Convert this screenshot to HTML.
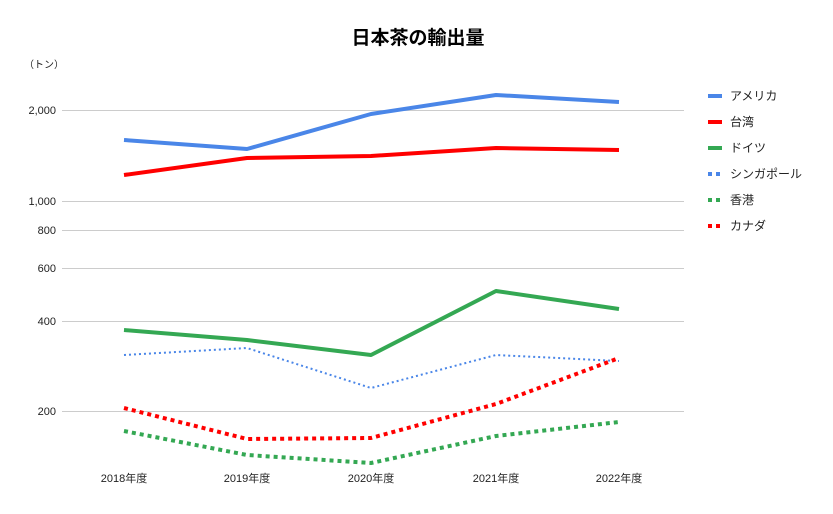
<!DOCTYPE html>
<html><head><meta charset="utf-8"><style>
body{margin:0;background:#fff}
text{font-family:"Liberation Sans","Noto Sans CJK JP",sans-serif}
</style></head><body>
<svg width="833" height="509" xmlns="http://www.w3.org/2000/svg">
<rect width="833" height="509" fill="#fff"/>
<text x="418" y="44" text-anchor="middle" font-size="19" font-weight="bold" fill="#000">日本茶の輸出量</text>
<text x="24" y="68" font-size="10" fill="#222">（トン）</text>
<g stroke="#ccc" stroke-width="1">
<line x1="62" x2="684" y1="110.5" y2="110.5"/>
<line x1="62" x2="684" y1="201.5" y2="201.5"/>
<line x1="62" x2="684" y1="230.5" y2="230.5"/>
<line x1="62" x2="684" y1="268.5" y2="268.5"/>
<line x1="62" x2="684" y1="321.5" y2="321.5"/>
<line x1="62" x2="684" y1="411.5" y2="411.5"/>
</g>
<g font-size="11" fill="#222" text-anchor="end">
<text x="56" y="114">2,000</text>
<text x="56" y="205">1,000</text>
<text x="56" y="234">800</text>
<text x="56" y="272">600</text>
<text x="56" y="325">400</text>
<text x="56" y="415">200</text>
</g>
<g font-size="11" fill="#222" text-anchor="middle">
<text x="124" y="482">2018年度</text>
<text x="247" y="482">2019年度</text>
<text x="371" y="482">2020年度</text>
<text x="496" y="482">2021年度</text>
<text x="619" y="482">2022年度</text>
</g>
<g fill="none" stroke-linejoin="round">
<polyline stroke="#4a86e8" stroke-width="4" points="124,140 247,149 371,114 496,95 619,102"/>
<polyline stroke="#f00" stroke-width="4" points="124,175 247,158 371,156 496,148 619,150"/>
<polyline stroke="#34a853" stroke-width="4" points="124,330 247,340 371,355 496,291 619,309"/>
<polyline stroke="#4a86e8" stroke-width="2" stroke-dasharray="2,3" points="124,355 247,348 371,388 496,355 619,361"/>
<polyline stroke="#34a853" stroke-width="4" stroke-dasharray="4,4" points="124,431 247,455 371,463 496,436 619,422"/>
<polyline stroke="#f00" stroke-width="4" stroke-dasharray="4,4" points="124,408 247,439 371,438 496,404 619,358"/>
</g>
<g stroke-width="4">
<line x1="708" x2="722" y1="96" y2="96" stroke="#4a86e8"/>
<line x1="708" x2="722" y1="122" y2="122" stroke="#f00"/>
<line x1="708" x2="722" y1="148" y2="148" stroke="#34a853"/>
<line x1="708" x2="722" y1="174" y2="174" stroke="#4a86e8" stroke-dasharray="4,4"/>
<line x1="708" x2="722" y1="200" y2="200" stroke="#34a853" stroke-dasharray="4,4"/>
<line x1="708" x2="722" y1="226" y2="226" stroke="#f00" stroke-dasharray="4,4"/>
</g>
<g font-size="12" fill="#222">
<text x="730" y="100">アメリカ</text>
<text x="730" y="126">台湾</text>
<text x="730" y="152">ドイツ</text>
<text x="730" y="178">シンガポール</text>
<text x="730" y="204">香港</text>
<text x="730" y="230">カナダ</text>
</g>
</svg>
</body></html>
